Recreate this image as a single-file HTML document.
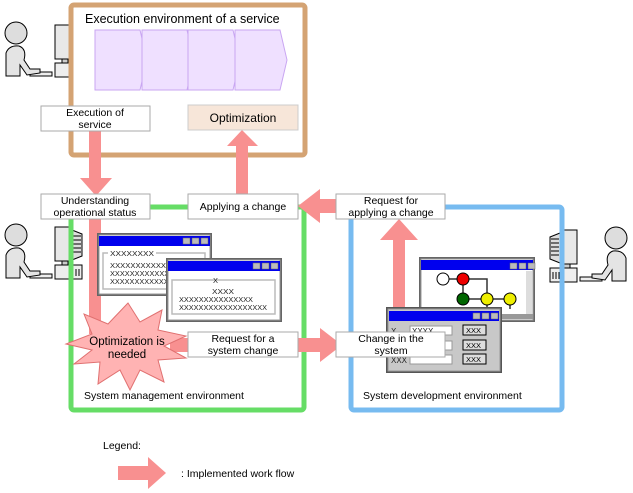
<!DOCTYPE html>
<html><head><meta charset="utf-8"><style>
body{margin:0;background:#fff}
svg{display:block;font-family:"Liberation Sans",Arial,sans-serif}
</style></head><body>
<svg width="633" height="493" viewBox="0 0 633 493" xmlns="http://www.w3.org/2000/svg">
<defs>
<g id="pc">
  <rect x="55" y="5" width="17" height="34" fill="#e8e8e8" stroke="#000"/>
  <path d="M72,8 L82,12 L82,34 L72,38 Z" fill="#ddd" stroke="#000"/>
  <path d="M73,14h8M73,18h8M73,22h8M73,26h8M73,30h8" stroke="#000"/>
  <rect x="62" y="39" width="6" height="4" fill="#ccc" stroke="#000"/>
  <rect x="55" y="43" width="27" height="14" fill="#eee" stroke="#000"/>
  <path d="M70,47v7M73,47v7M76,47v7M79,47v7" stroke="#000"/>
  <rect x="30" y="52" width="22" height="4" fill="#eee" stroke="#000"/>
  <circle cx="16" cy="13" r="11" fill="#ddd" stroke="#000"/>
  <path d="M6,56 L6,33 Q9,25 19,26 Q27,29 24,40 L30,49 L40,49 L40,53 L27,55 L20,45 L20,56 Z" fill="#e4e4e4" stroke="#000"/>
</g>
<g id="btn3"><rect x="0" y="0" width="7" height="6" fill="#bbb" stroke="#666" stroke-width=".5"/><rect x="9" y="0" width="7" height="6" fill="#bbb" stroke="#666" stroke-width=".5"/><rect x="18" y="0" width="7" height="6" fill="#bbb" stroke="#666" stroke-width=".5"/></g>
</defs>

<use href="#pc" x="0" y="20"/>
<use href="#pc" x="0" y="222"/>
<use href="#pc" transform="translate(632,225) scale(-1,1)"/>

<rect x="71" y="5" width="234" height="150" rx="3" fill="#fff" stroke="#d4a373" stroke-width="5"/>
<text x="85" y="23" font-size="12.5">Execution environment of a service</text>
<g fill="#efe0ff" stroke="#c9a6f2">
<path d="M95,30h45l7,30l-7,30h-45z"/>
<path d="M142,30h45l7,30l-7,30h-45z"/>
<path d="M188,30h45l7,30l-7,30h-45z"/>
<path d="M235,30h45l7,30l-7,30h-45z"/>
</g>

<rect x="71" y="207" width="233" height="203" rx="3" fill="none" stroke="#66dd66" stroke-width="5"/>
<rect x="351" y="207" width="211" height="203" rx="3" fill="none" stroke="#77bbf0" stroke-width="5"/>

<g fill="#f89090">
<path d="M89,131h12v47h11l-16,18l-16,-18h9z"/>
<rect x="89" y="219" width="12" height="115"/>
<path d="M236,196v-50h-9l15,-16l16,16h-10v50z"/>
<path d="M336,199h-16v-10l-22,17l22,17v-10h16z"/>
<path d="M170,338h150v-10l22,17l-22,17v-10h-150z"/>
<path d="M393,332v-92h-13l19,-21l19,21h-13v92z"/>
<path d="M118,466h30v-9l18,16l-18,16v-9h-30z"/>
</g>

<g>
<rect x="97" y="233" width="115" height="63" fill="#666"/>
<rect x="99" y="235" width="111" height="59" fill="#fff" stroke="#999"/>
<rect x="99" y="236" width="111" height="10" fill="#0000ee"/>
<use href="#btn3" x="183" y="238"/>
<rect x="103" y="253" width="102" height="36" fill="none" stroke="#bbb" stroke-width="1.5"/>
<rect x="108" y="250" width="48" height="6" fill="#fff"/>
<g font-size="7.5" fill="#222">
<text x="110" y="256" textLength="44" lengthAdjust="spacingAndGlyphs">XXXXXXXX</text>
<text x="110" y="268" textLength="56" lengthAdjust="spacingAndGlyphs">XXXXXXXXXXX</text>
<text x="110" y="276" textLength="74" lengthAdjust="spacingAndGlyphs">XXXXXXXXXXXXXXX</text>
<text x="110" y="284" textLength="88" lengthAdjust="spacingAndGlyphs">XXXXXXXXXXXXXXXXXX</text>
</g>
</g>
<g>
<rect x="166" y="258" width="116" height="64" fill="#666"/>
<rect x="168" y="260" width="112" height="60" fill="#fff" stroke="#999"/>
<rect x="168" y="261" width="112" height="10" fill="#0000ee"/>
<use href="#btn3" x="253" y="263"/>
<rect x="172" y="280" width="103" height="34" fill="none" stroke="#bbb" stroke-width="1.5"/>
<g font-size="7.5" fill="#222">
<text x="213" y="283">X</text>
<text x="212" y="294" textLength="22" lengthAdjust="spacingAndGlyphs">XXXX</text>
<text x="179" y="302" textLength="74" lengthAdjust="spacingAndGlyphs">XXXXXXXXXXXXXXX</text>
<text x="179" y="310" textLength="88" lengthAdjust="spacingAndGlyphs">XXXXXXXXXXXXXXXXXX</text>
</g>
</g>

<g>
<rect x="419" y="257" width="116" height="65" fill="#666"/>
<rect x="421" y="259" width="112" height="61" fill="#fff" stroke="#999"/>
<rect x="421" y="260" width="112" height="10" fill="#0000ee"/>
<use href="#btn3" x="510" y="263"/>
<rect x="526" y="271" width="6" height="43" fill="#ddd"/>
<rect x="421" y="314" width="112" height="5" fill="#999"/>
<path d="M443,279h20v20M463,279h24v20M463,299h47M487,299v10M510,299v10" stroke="#333" stroke-width="1.5" fill="none"/>
<circle cx="443" cy="279" r="6" fill="#fff" stroke="#000"/>
<circle cx="463" cy="279" r="6" fill="#e00" stroke="#000"/>
<circle cx="463" cy="299" r="6" fill="#060" stroke="#000"/>
<circle cx="487" cy="299" r="6" fill="#ee0" stroke="#000"/>
<circle cx="510" cy="299" r="6" fill="#ee0" stroke="#000"/>
</g>
<g>
<rect x="386" y="307" width="116" height="66" fill="#555"/>
<rect x="388" y="309" width="112" height="62" fill="#c8c8c8" stroke="#999"/>
<rect x="389" y="311" width="110" height="10" fill="#0000ee"/>
<use href="#btn3" x="473" y="313"/>
<rect x="410" y="326" width="42" height="9" fill="#fff" stroke="#999"/>
<rect x="410" y="341" width="42" height="9" fill="#fff" stroke="#999"/>
<rect x="410" y="355" width="42" height="9" fill="#fff" stroke="#999"/>
<g font-size="8" fill="#222"><text x="391" y="334">X</text><text x="412" y="334">XXXX</text><text x="391" y="363">XXX</text></g>
<g><rect x="463" y="325" width="23" height="10" fill="#ddd" stroke="#000"/><rect x="463" y="340" width="23" height="10" fill="#ddd" stroke="#000"/><rect x="463" y="354" width="23" height="10" fill="#ddd" stroke="#000"/></g>
<g font-size="7.5" fill="#000"><text x="466" y="333">XXX</text><text x="466" y="348">XXX</text><text x="466" y="362">XXX</text></g>
</g>

<path d="M128,303 L140,322 L162,310 L158,330 L186,336 L164,346 L186,358 L158,360 L164,382 L140,370 L130,390 L120,370 L98,384 L100,362 L74,364 L92,350 L66,344 L92,334 L84,314 L108,324 Z" fill="#ffb3b3" stroke="#e07070"/>
<text font-size="11.5" text-anchor="middle"><tspan x="127" y="345">Optimization is</tspan><tspan x="127" y="358">needed</tspan></text>

<g fill="#fff" stroke="#aaa">
<rect x="41" y="106" width="109" height="25"/>
<rect x="41" y="194" width="109" height="25"/>
<rect x="188" y="194" width="110" height="25"/>
<rect x="336" y="194" width="109" height="25"/>
<rect x="188" y="332" width="110" height="25"/>
<rect x="336" y="332" width="109" height="25"/>
</g>
<rect x="188" y="105" width="110" height="25" fill="#f7e6d9" stroke="#ccc"/>
<g font-size="10.5" text-anchor="middle">
<text x="95" y="116">Execution of</text><text x="95" y="128">service</text>
<text x="243" y="122" font-size="12">Optimization</text>
<text x="95" y="204">Understanding</text><text x="95" y="216">operational status</text>
<text x="243" y="210">Applying a change</text>
<text x="391" y="204">Request for</text><text x="391" y="216">applying a change</text>
<text x="243" y="342">Request for a</text><text x="243" y="354">system change</text>
<text x="391" y="342">Change in the</text><text x="391" y="354">system</text>
</g>
<text x="84" y="399" font-size="10.5">System management environment</text>
<text x="363" y="399" font-size="10.5">System development environment</text>

<text x="103" y="449" font-size="10.5">Legend:</text>
<text x="181" y="477" font-size="10.5">: Implemented work flow</text>
</svg>
</body></html>
